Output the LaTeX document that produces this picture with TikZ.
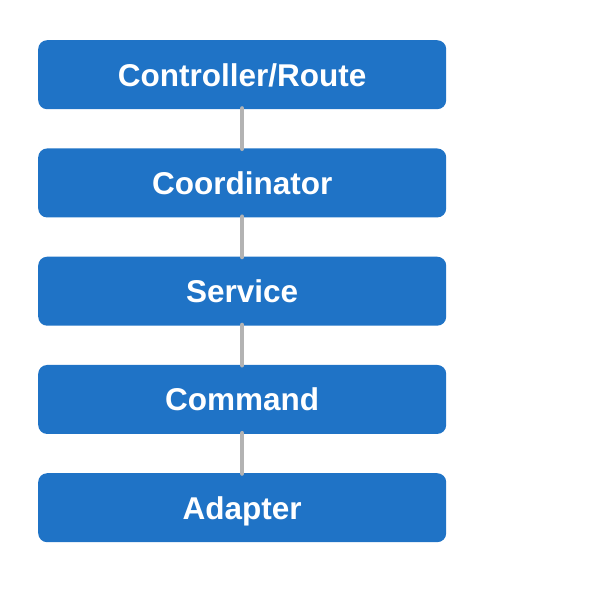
\documentclass[tikz,border=0pt]{standalone}
\usepackage{fontspec}
\setmainfont{Liberation Sans}
\definecolor{boxblue}{HTML}{1F73C6}
\definecolor{linkgray}{HTML}{B3B3B3}
\begin{document}
\begin{tikzpicture}[x=1pt,y=-1pt,
  layer/.style={draw=none,fill=boxblue,rounded corners=9pt,minimum width=408pt,minimum height=69pt,
    inner sep=0pt,text height=22.8pt,text depth=0pt,text=white,
    font=\fontsize{31.5}{36}\selectfont\bfseries,anchor=north west},
  link/.style={draw=linkgray,line width=4.5pt,line cap=round}]
\useasboundingbox (0,0) rectangle (602,592);
\node[layer] (a) at (38,40) {Controller/Route};
\node[layer] (b) at (38,148.25) {Coordinator};
\node[layer] (c) at (38,256.5) {Service};
\node[layer] (d) at (38,364.75) {Command};
\node[layer] (e) at (38,473) {Adapter};
\draw[link] ([yshift=1pt]a.south) -- ([yshift=-0.5pt]b.north);
\draw[link] ([yshift=1pt]b.south) -- ([yshift=-0.5pt]c.north);
\draw[link] ([yshift=1pt]c.south) -- ([yshift=-0.5pt]d.north);
\draw[link] ([yshift=1pt]d.south) -- ([yshift=-0.5pt]e.north);
\end{tikzpicture}
\end{document}
